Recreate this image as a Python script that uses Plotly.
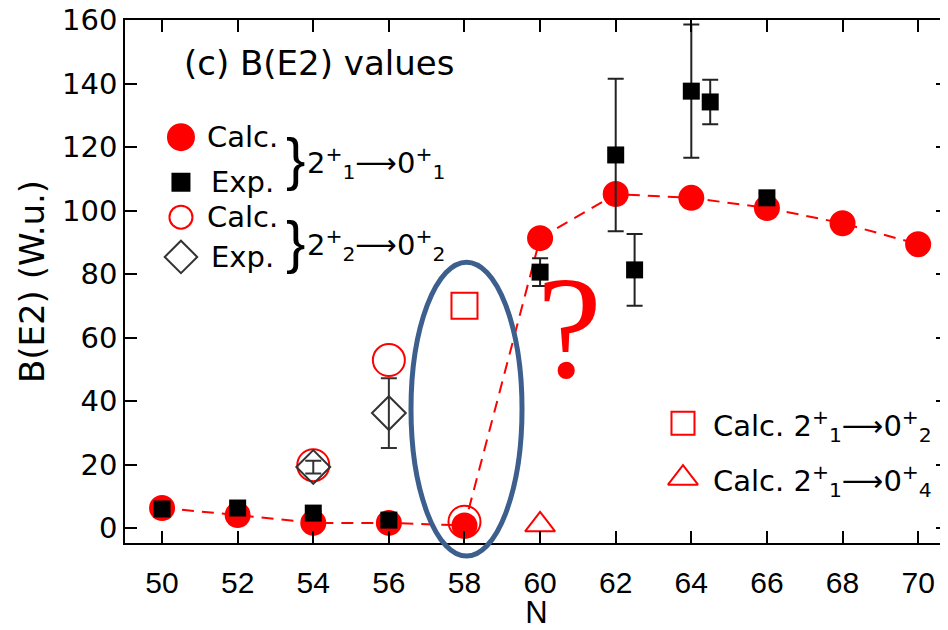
import plotly.graph_objects as go

# ---------------- data ----------------
N_calc = [50, 52, 54, 56, 58, 60, 62, 64, 66, 68, 70]
BE2_calc_21_01 = [6.3, 4.1, 1.6, 1.6, 0.8, 91.3, 105.2, 104.0, 100.8, 96.0, 89.4]

N_exp = [50, 52, 54, 56, 60, 62, 62.5, 64, 64.5, 66]
BE2_exp_21_01 = [6.0, 6.3, 4.7, 2.5, 80.6, 117.5, 81.3, 137.6, 134.2, 104.0]
BE2_exp_21_01_err = [0.5, 0.5, 0.5, 0.4, 4.4, 24.0, 11.3, 21.0, 7.0, 1.5]

N_calc_22 = [54, 56, 58]
BE2_calc_22_02 = [19.8, 52.9, 2.0]

N_exp_22 = [54, 56]
BE2_exp_22_02 = [19.2, 36.2]
BE2_exp_22_02_err = [2.0, 11.0]

N_calc_21_02 = [58]
BE2_calc_21_02 = [70.0]

N_calc_21_04 = [60]
BE2_calc_21_04 = [1.0]

x_ticks = [50, 52, 54, 56, 58, 60, 62, 64, 66, 68, 70]
y_ticks = [0, 20, 40, 60, 80, 100, 120, 140, 160]

RED = "#ff0000"
FONT = "Liberation Sans, Arial, Helvetica, sans-serif"
WFONT = "DejaVu Sans, Verdana, sans-serif"

fig = go.Figure()

fig.add_trace(go.Scatter(
    x=N_calc, y=BE2_calc_21_01, mode="lines+markers",
    line=dict(color=RED, width=2, dash="12px,8px"),
    marker=dict(symbol="circle", size=26, color=RED),
    showlegend=False, cliponaxis=False))

fig.add_trace(go.Scatter(
    x=N_calc_22, y=BE2_calc_22_02, mode="markers",
    marker=dict(symbol="circle-open", size=32, color=RED, line=dict(width=2)),
    showlegend=False, cliponaxis=False))

fig.add_trace(go.Scatter(
    x=N_exp_22, y=BE2_exp_22_02, mode="markers",
    error_y=dict(type="data", array=BE2_exp_22_02_err, color="#333333",
                 thickness=2, width=8),
    marker=dict(symbol="diamond-open", size=26, color="#333333", line=dict(width=2)),
    showlegend=False, cliponaxis=False))

fig.add_trace(go.Scatter(
    x=N_exp, y=BE2_exp_21_01, mode="markers",
    error_y=dict(type="data", array=BE2_exp_21_01_err, color="#222222",
                 thickness=2, width=8),
    marker=dict(symbol="square", size=17, color="black"),
    showlegend=False, cliponaxis=False))

fig.add_trace(go.Scatter(
    x=N_calc_21_02, y=BE2_calc_21_02, mode="markers",
    marker=dict(symbol="square-open", size=26, color=RED, line=dict(width=2)),
    showlegend=False, cliponaxis=False))

fig.add_trace(go.Scatter(
    x=N_calc_21_04, y=BE2_calc_21_04, mode="markers",
    marker=dict(symbol="triangle-up-open", size=26, color=RED, line=dict(width=2)),
    showlegend=False, cliponaxis=False))

# ---------- hand-made legend symbols (on an overlay 0..1 axis) ----------
leg_x = [0.068, 0.068, 0.068, 0.068, 0.678, 0.678]
leg_y = [0.776, 0.690, 0.623, 0.547, 0.229, 0.124]
leg_sym = ["circle", "square", "circle-open", "diamond-open", "square-open", "triangle-up-open"]
leg_size = [26, 17, 23, 25, 23, 26]
leg_col = [RED, "black", RED, "#333333", RED, RED]
for lx, ly, s, sz, c in zip(leg_x, leg_y, leg_sym, leg_size, leg_col):
    fig.add_trace(go.Scatter(
        x=[lx], y=[ly], xaxis="x2", yaxis="y2", mode="markers",
        marker=dict(symbol=s, size=sz, color=c, line=dict(width=2, color=c)),
        showlegend=False, cliponaxis=False))

ann = []
def txt(x, y, t, size=29, anchor="left", color="black", family=WFONT):
    ann.append(dict(x=x, y=y, xref="paper", yref="paper", text=t, showarrow=False,
                    xanchor=anchor, yanchor="middle",
                    font=dict(size=size, color=color, family=family)))

txt(0.0693, 0.918, "(c) B(E2) values", size=34)
txt(0.0972, 0.776, "Calc.")
txt(0.102, 0.690, "Exp.")
txt(0.0972, 0.623, "Calc.")
txt(0.102, 0.547, "Exp.")
txt(0.2066, 0.735, "}", size=58, anchor="center", family=FONT)
txt(0.2066, 0.577, "}", size=58, anchor="center", family=FONT)
txt(0.2187, 0.727, "2<sup>+</sup><sub>1</sub>⟶0<sup>+</sup><sub>1</sub>")
txt(0.2187, 0.569, "2<sup>+</sup><sub>2</sub>⟶0<sup>+</sup><sub>2</sub>")
txt(0.712, 0.224, "Calc. 2<sup>+</sup><sub>1</sub>⟶0<sup>+</sup><sub>2</sub>")
txt(0.712, 0.119, "Calc. 2<sup>+</sup><sub>1</sub>⟶0<sup>+</sup><sub>4</sub>")
txt(0.5407, 0.412, "?", size=146, anchor="center", color=RED,
    family="Liberation Serif, Times New Roman, serif")

# The page body adds an 8px margin; the figure is sized so that the plot
# area lands where the reference has it.
fig.update_layout(
    width=940, height=622,
    margin=dict(l=117, r=0, t=12, b=87),
    paper_bgcolor="white", plot_bgcolor="white",
    font=dict(family=FONT, size=28, color="black"),
    annotations=ann,
    shapes=[dict(type="circle", xref="paper", yref="paper",
                 x0=0.3475, x1=0.4824, y0=-0.025, y1=0.537,
                 line=dict(color="#3d5f8e", width=5), layer="above")],
    xaxis=dict(range=[49.02, 70.79], tickvals=x_ticks, ticks="inside", ticklen=12,
               tickwidth=1.5, tickcolor="black", showline=True, linecolor="black",
               linewidth=1.5, mirror="ticks", showgrid=False, zeroline=False,
               automargin=False, ticklabelstandoff=12, ticklabeloverflow="allow",
               tickfont=dict(size=30, family=FONT),
               title=dict(text="N", font=dict(size=31, family=FONT), standoff=10)),
    yaxis=dict(range=[-4.72, 160.01], tickvals=y_ticks, ticks="inside", ticklen=12,
               tickwidth=1.5, tickcolor="black", showline=True, linecolor="black",
               linewidth=1.5, mirror="ticks", showgrid=False, zeroline=False,
               automargin=False, ticklabeloverflow="allow",
               tickfont=dict(size=29, family=WFONT),
               title=dict(text="B(E2) (W.u.)", font=dict(size=34, family=WFONT), standoff=7)),
    xaxis2=dict(range=[0, 1], overlaying="x", visible=False, fixedrange=True),
    yaxis2=dict(range=[0, 1], overlaying="y", visible=False, fixedrange=True),
)

fig.write_html("out.html")
